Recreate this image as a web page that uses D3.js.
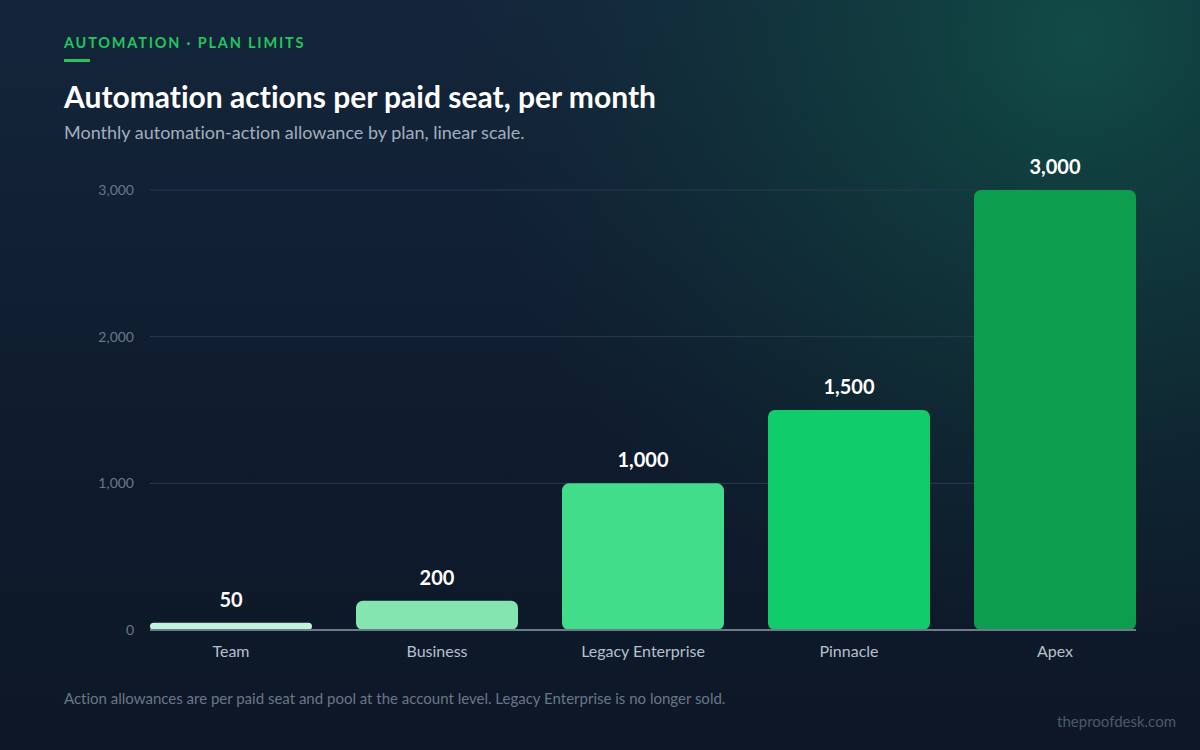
<!DOCTYPE html>
<html><head><meta charset="utf-8">
<script src="https://cdn.jsdelivr.net/npm/d3@7/dist/d3.min.js"></script>
<style>
html,body{margin:0;padding:0;background:#0e1828;}
svg{display:block;font-family:Lato,"Noto Sans",sans-serif;font-variant-ligatures:none;}
svg text{font-variant-ligatures:none;}
</style></head>
<body>
<svg id="chart" width="1200" height="750"></svg>
<script>
const categories = ["Team", "Business", "Legacy Enterprise", "Pinnacle", "Apex"];
const values = [50, 200, 1000, 1500, 3000];
const barColors = ["#c3f3da", "#84e5b0", "#41dd8a", "#10cc6a", "#0c9e4e"];
const yTicks = [0, 1000, 2000, 3000];

const W = 1200, H = 750;
const svg = d3.select("#chart");
const defs = svg.append("defs");

const lg = defs.append("linearGradient").attr("id","bg").attr("x1",0).attr("y1",0).attr("x2",0).attr("y2",1);
lg.append("stop").attr("offset","0%").attr("stop-color","#14253b");
lg.append("stop").attr("offset","55%").attr("stop-color","#0f1c2e");
lg.append("stop").attr("offset","100%").attr("stop-color","#0d1727");
const rg = defs.append("radialGradient").attr("id","glow").attr("cx",1080).attr("cy",40).attr("r",620).attr("gradientUnits","userSpaceOnUse");
rg.append("stop").attr("offset","0%").attr("stop-color","#10584a").attr("stop-opacity",0.75);
rg.append("stop").attr("offset","45%").attr("stop-color","#0f4a40").attr("stop-opacity",0.45);
rg.append("stop").attr("offset","100%").attr("stop-color","#0f3a3a").attr("stop-opacity",0);

svg.append("rect").attr("width",W).attr("height",H).attr("fill","url(#bg)");
svg.append("rect").attr("width",W).attr("height",H).attr("fill","url(#glow)");

// Header
svg.append("text").attr("x",64).attr("y",48).text("AUTOMATION · PLAN LIMITS")
  .attr("fill","#22c55e").attr("font-size",14.5).attr("font-weight",700).attr("letter-spacing",1.8);
svg.append("rect").attr("x",64).attr("y",59).attr("width",26).attr("height",3).attr("fill","#22c55e");
svg.append("text").attr("x",64).attr("y",108).text("Automation actions per paid seat, per month")
  .attr("fill","#ffffff").attr("font-size",30).attr("font-weight",700);
svg.append("text").attr("x",64).attr("y",139).text("Monthly automation-action allowance by plan, linear scale.")
  .attr("fill","#a3afbd").attr("font-size",18);

// Scales
const x = d3.scaleBand().domain(categories).range([150,1136]).paddingInner(0.2136).paddingOuter(0);
const y = d3.scaleLinear().domain([0,3000]).range([630,190]);

// Gridlines
const grid = svg.append("g");
grid.selectAll("line").data(yTicks.filter(d=>d>0)).join("line")
  .attr("x1",150).attr("x2",1136).attr("y1",d=>y(d)).attr("y2",d=>y(d))
  .attr("stroke","#2a3b52").attr("stroke-width",1);

// Y axis labels
const yAxis = d3.axisLeft(y).tickValues(yTicks).tickFormat(d3.format(",")).tickSize(0).tickPadding(0);
const ya = svg.append("g").attr("transform","translate(134,0)").call(yAxis);
ya.select(".domain").remove();
ya.selectAll("text").attr("fill","#6a7889").attr("font-size",14).attr("font-family","Lato,'Noto Sans',sans-serif");

// Bars
const data = categories.map((c,i)=>({c, v:values[i], col:barColors[i]}));
svg.append("g").selectAll("rect").data(data).join("rect")
  .attr("x",d=>x(d.c)).attr("width",x.bandwidth())
  .attr("y",d=>y(d.v)).attr("height",d=>y(0)-y(d.v))
  .attr("rx",d=>Math.min(7,(y(0)-y(d.v))/2)).attr("fill",d=>d.col);

// Baseline
svg.append("line").attr("x1",150).attr("x2",1136).attr("y1",y(0)).attr("y2",y(0))
  .attr("stroke","#6b7a8d").attr("stroke-width",2);

// Value labels
svg.append("g").selectAll("text").data(data).join("text")
  .attr("x",d=>x(d.c)+x.bandwidth()/2).attr("y",d=>y(d.v)-16)
  .attr("text-anchor","middle").attr("fill","#ffffff").attr("font-size",20).attr("font-weight",700)
  .text(d=>d3.format(",")(d.v));

// X axis labels
const xAxis = d3.axisBottom(x).tickSize(0).tickPadding(0);
const xa = svg.append("g").attr("transform","translate(0,646)").call(xAxis);
xa.select(".domain").remove();
xa.selectAll("text").attr("fill","#b6c0cc").attr("font-size",16).attr("font-family","Lato,'Noto Sans',sans-serif");

// Footer
svg.append("text").attr("x",64).attr("y",704).text("Action allowances are per paid seat and pool at the account level. Legacy Enterprise is no longer sold.")
  .attr("fill","#6a7788").attr("font-size",15);
svg.append("text").attr("x",1176).attr("y",727).attr("text-anchor","end").text("theproofdesk.com")
  .attr("fill","#4c5a6b").attr("font-size",15);
</script>
</body></html>
